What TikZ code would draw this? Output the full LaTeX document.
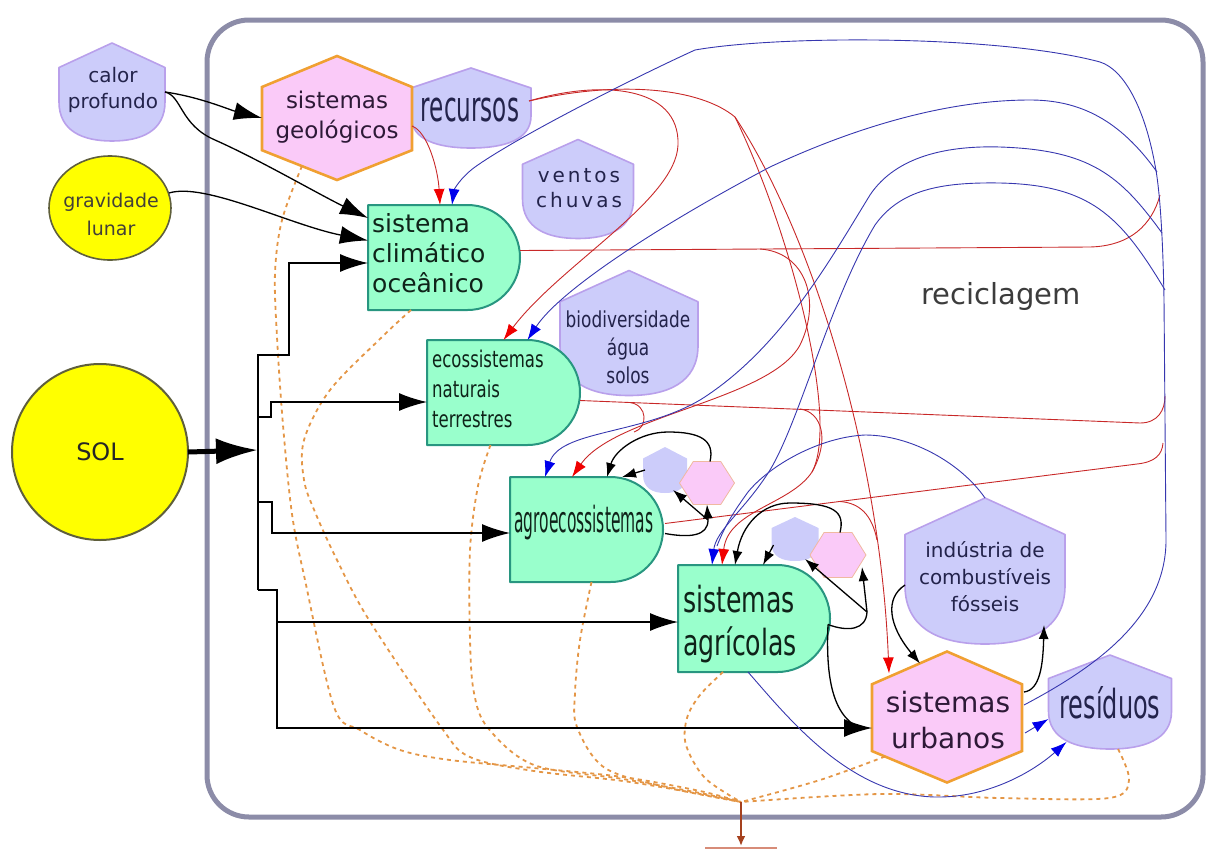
\documentclass[tikz,border=0pt]{standalone}
\usepackage{fontspec}
\setmainfont{DejaVu Sans}
\newfontfamily\fRec[FakeStretch=0.55]{DejaVu Sans}
\newfontfamily\fRes[FakeStretch=0.6]{DejaVu Sans}
\newfontfamily\fAgro[FakeStretch=0.43]{DejaVu Sans}
\newfontfamily\fAgric[FakeStretch=0.7]{DejaVu Sans}
\newfontfamily\fEco[FakeStretch=0.72]{DejaVu Sans}
\newfontfamily\fBio[FakeStretch=0.77]{DejaVu Sans}
\newfontfamily\fVent[LetterSpace=15]{DejaVu Sans}
\usetikzlibrary{arrows.meta,shapes.geometric,calc}
\pgfdeclarelayer{bg}
\pgfdeclarelayer{shp}
\pgfdeclarelayer{fg}
\pgfsetlayers{bg,shp,main,fg}
\definecolor{frameC}{RGB}{140,140,168}
\definecolor{lavF}{RGB}{204,204,250}
\definecolor{lavD}{RGB}{185,160,235}
\definecolor{pinkF}{RGB}{250,202,248}
\definecolor{orangeD}{RGB}{240,160,50}
\definecolor{salmonD}{RGB}{240,185,160}
\definecolor{greenF}{RGB}{153,255,204}
\definecolor{greenD}{RGB}{40,150,128}
\definecolor{yelF}{RGB}{255,255,0}
\definecolor{yelD}{RGB}{95,95,60}
\definecolor{redL}{RGB}{200,40,40}
\definecolor{redT}{RGB}{240,0,0}
\definecolor{blueL}{RGB}{55,55,175}
\definecolor{blueT}{RGB}{0,0,235}
\definecolor{heatC}{RGB}{228,150,70}
\definecolor{brownA}{RGB}{165,65,30}
\definecolor{barC}{RGB}{215,140,120}
\definecolor{navyT}{RGB}{35,35,75}
\definecolor{greenT}{RGB}{15,35,25}
\definecolor{pinkT}{RGB}{45,25,55}
\definecolor{grayT}{RGB}{60,60,60}
% shapes drawn from node anchors
\newcommand{\shieldP}[2]{\path[#2] (#1.north) -- ($(#1.north east)!0.25!(#1.south east)$) -- ($(#1.north east)!0.6!(#1.south east)$) .. controls ($(#1.north east)!0.9!(#1.south east)$) and ($(#1.south)!0.55!(#1.south east)$) .. (#1.south) .. controls ($(#1.south)!0.55!(#1.south west)$) and ($(#1.north west)!0.9!(#1.south west)$) .. ($(#1.north west)!0.6!(#1.south west)$) -- ($(#1.north west)!0.25!(#1.south west)$) -- cycle;}
\newcommand{\hexV}[2]{\path[#2] (#1.north) -- ($(#1.north east)!0.25!(#1.south east)$) -- ($(#1.north east)!0.76!(#1.south east)$) -- (#1.south) -- ($(#1.north west)!0.76!(#1.south west)$) -- ($(#1.north west)!0.25!(#1.south west)$) -- cycle;}
\newcommand{\hexH}[2]{\path[#2] ($(#1.north west)!0.25!(#1.north east)$) -- ($(#1.north west)!0.75!(#1.north east)$) -- (#1.east) -- ($(#1.south west)!0.75!(#1.south east)$) -- ($(#1.south west)!0.25!(#1.south east)$) -- (#1.west) -- cycle;}
\newcommand{\dP}[2]{\path[#2] (#1.north west) -- ($(#1.north east)+(-52.5,0)$) .. controls ($(#1.north east)+(-23.5,0)$) and ($(#1.east)+(0,-29)$) .. (#1.east) .. controls ($(#1.east)+(0,29)$) and ($(#1.south east)+(-23.5,0)$) .. ($(#1.south east)+(-52.5,0)$) -- (#1.south west) -- cycle;}
\tikzset{
  sbox/.style 2 args={minimum width=#1, minimum height=#2, inner sep=0pt, outer sep=0pt, draw=none},
  lavS/.style={fill=lavF, draw=lavD, line width=1.6pt, line join=round},
  lavSm/.style={fill=lavF, draw=none},
  pinkS/.style={fill=pinkF, draw=orangeD, line width=2.6pt, line join=miter},
  pinkSm/.style={fill=pinkF, draw=salmonD, line width=0.8pt},
  greenS/.style={fill=greenF, draw=greenD, line width=2pt, line join=round},
  flow/.style={draw=black, line width=1.3pt},
  bigtip/.style={-{Latex[length=28pt,width=18pt]}},
  smalltip/.style={-{Latex[length=14pt,width=10pt]}},
  redflow/.style={draw=redL, line width=0.9pt},
  redtip/.style={-{Latex[length=16pt,width=11pt,color=redT]}},
  blueflow/.style={draw=blueL, line width=0.9pt},
  bluetip/.style={-{Latex[length=16pt,width=11pt,color=blueT]}},
  heat/.style={draw=heatC, line width=1.8pt, dash pattern=on 4pt off 4pt},
  lbl/.style={inner sep=0pt, align=center},
}
\begin{document}
\begin{tikzpicture}[x=1pt,y=-1pt]
\useasboundingbox (0,0) rectangle (1206,854);
\begin{pgfonlayer}{bg}
\draw[draw=frameC, line width=5pt, rounded corners=42pt] (207,20) rectangle (1203,817);
\end{pgfonlayer}

% ---------- shape nodes ----------
\node[sbox={106}{98}] (calor) at (112,92) {};
\node[sbox={120}{80}] (rec) at (471,108) {};
\node[sbox={111}{99}] (vent) at (578,189) {};
\node[sbox={138}{125}] (bio) at (629,333) {};
\node[sbox={160}{146}] (ind) at (985,571) {};
\node[sbox={123}{94}] (res) at (1110,702) {};
\node[sbox={44}{46}] (s1) at (665,470) {};
\node[sbox={47}{44}] (s2) at (795,539) {};
\node[sbox={150}{124}] (geo) at (337,118) {};
\node[sbox={150}{131}] (urb) at (947,717) {};
\node[sbox={55}{43}] (p1) at (707,483) {};
\node[sbox={56}{45}] (p2) at (838,555) {};
\node[sbox={152}{105}] (clim) at (444,257.5) {};
\node[sbox={153}{105}] (eco) at (503.5,392.5) {};
\node[sbox={153}{105}] (agro) at (586.5,529.5) {};
\node[sbox={152}{107}] (agric) at (754,618.5) {};
\node[ellipse, minimum width=122pt, minimum height=104pt, inner sep=0pt, outer sep=0pt, fill=yelF, draw=yelD, line width=1.6pt] (grav) at (110,208) {};
\node[ellipse, minimum width=176pt, minimum height=176pt, inner sep=0pt, outer sep=0pt, fill=yelF, draw=yelD, line width=2pt, font=\fontsize{24}{28}\selectfont, text=black!85] (sol) at (100,452) {SOL};

\begin{pgfonlayer}{shp}
\shieldP{calor}{lavS}
\shieldP{rec}{lavS}
\shieldP{vent}{lavS}
\shieldP{bio}{lavS}
\shieldP{ind}{lavS}
\shieldP{res}{lavS}
\shieldP{s1}{lavSm}
\shieldP{s2}{lavSm}
\hexV{geo}{pinkS}
\hexV{urb}{pinkS}
\hexH{p1}{pinkSm}
\hexH{p2}{pinkSm}
\dP{clim}{greenS}
\dP{eco}{greenS}
\dP{agro}{greenS}
\dP{agric}{greenS}
\end{pgfonlayer}

% ---------- heat sink ----------
\coordinate (heat) at (741,802);
\coordinate (gnd) at (741,846);
\draw[heat] plot[smooth, tension=0.55] coordinates {($(geo.south)+(-35,-14)$) (282,220) (275,273) (277,337) (283,425) (292,514) (305,580) (334,707) (360,730) (400,750) (450,760) (534,768) (623,777) (700,791) (heat)};
\draw[heat] plot[smooth, tension=0.55] coordinates {($(clim.south west)+(43,0)$) (382,337) (330,390) (304,440) (304,480) (315,512) (337,560) (369,620) (441,727) (470,757) (534,771) (623,781) (700,794) (heat)};
\draw[heat] plot[smooth, tension=0.55] coordinates {($(eco.south)+(-13,0)$) (478,486) (470,550) (470,640) (474,693) (488,728) (534,765) (623,779) (700,793) (heat)};
\draw[heat] plot[smooth, tension=0.55] coordinates {($(agro.south)+(5,0)$) (580,640) (575,693) (577,727) (605,768) (670,788) (heat)};
\draw[heat] plot[smooth, tension=0.55] coordinates {($(agric.south)+(-31,0)$) (700,695) (687,718) (686,745) (705,778) (heat)};
\draw[heat] plot[smooth, tension=0.55] coordinates {($(urb.south west)+(13,-26)$) (820,780) (heat)};
\draw[heat] plot[smooth, tension=0.55] coordinates {($(res.south)+(8,0)$) (1129,780) (1109,798) (1000,798) (880,794) (heat)};
\draw[draw=brownA, line width=2.5pt, -{Latex[length=10pt,width=9pt]}] (heat) -- (gnd);
\draw[draw=barC, line width=1.2pt] (705,848) -- (777,848);

% ---------- energy inputs ----------
\coordinate (bus) at (258,450);
\draw[line width=5pt, -{Latex[length=42pt,width=26pt]}] (sol.east) -- (bus);
\draw[flow] (258,354) -- (258,590);
\draw[flow, bigtip] (258,355) -- (289,355) -- (289,263) -- ($(clim.west)+(0,5.5)$);
\draw[flow, bigtip] (258,417) -- (271,417) -- (271,402) -- ($(eco.west)+(0,9.5)$);
\draw[flow, bigtip] (258,502) -- (272,502) -- (272,533) -- ($(agro.west)+(0,3.5)$);
\draw[flow, bigtip] (258,590) -- (277,590) -- (277,622) -- ($(agric.west)+(0,3.5)$);
\draw[flow, bigtip] (277,622) -- (277,728) -- ($(urb.west)+(0,11)$);
\draw[flow, bigtip] (calor.east) .. controls (200,97) and (230,110) .. (geo.west);
\draw[flow, bigtip] (calor.east) .. controls (182,96) and (180,125) .. (215,140) .. controls (260,160) and (320,195) .. ($(clim.north west)+(0,13)$);
\draw[flow, bigtip] ($(grav.east)+(-2,-15)$) .. controls (205,182) and (290,225) .. ($(clim.west)+(0,-17)$);

% ---------- red (materials) ----------
\coordinate (rj) at (735,117);
\coordinate (rc) at (760,249);
\draw[redflow, redtip] ($(geo.east)+(0,8)$) .. controls (428,132) and (438,170) .. ($(clim.north)+(-4,0)$);
\draw[redflow, redtip] ($(rec.east)+(-2,-7)$) .. controls (600,80) and (680,85) .. (678,145) .. controls (676,200) and (560,265) .. (eco.north);
\draw[redflow] ($(rec.east)+(-2,-7)$) .. controls (620,80) and (700,88) .. (rj);
\draw[redflow, redtip] (rj) .. controls (810,230) and (880,450) .. ($(urb.north)+(-58,22)$);
\draw[redflow, redtip] (rj) .. controls (790,230) and (840,420) .. (812,472) .. controls (790,505) and (728,510) .. ($(agric.north)+(-32,0)$);
\draw[redflow] ($(clim.east)+(0,-7)$) -- (1090,247) .. controls (1130,246) and (1152,225) .. (1160,195);
\draw[redflow, redtip] (rc) .. controls (805,252) and (822,300) .. (800,345) .. controls (770,400) and (615,415) .. ($(agro.north)+(-14.5,0)$);
\draw[redflow] ($(eco.east)+(0,8)$) -- (1140,423) .. controls (1158,423) and (1165,410) .. (1165,396);
\draw[redflow] (630,402.5) .. controls (648,405) and (648,428) .. (634,432);
\draw[redflow] (800,409) .. controls (822,412) and (830,440) .. (812,472);
\draw[redflow] ($(agro.east)+(2,-6)$) -- (1137,464) .. controls (1155,462) and (1162,455) .. (1163,443);
\draw[redflow] (840,501.5) .. controls (860,503) and (872,515) .. (877,540);

% ---------- blue (recycling) ----------
\draw[blueflow, bluetip] ($(urb.east)+(2,-12)$) .. controls (1090,670) and (1166,620) .. (1166,540) -- (1164,300) .. controls (1163,240) and (1160,190) .. (1155,165) .. controls (1145,110) and (1125,70) .. (1100,62) .. controls (1000,35) and (780,35) .. (695,50) .. controls (640,75) and (520,135) .. (475,167) .. controls (460,178) and (454,190) .. ($(clim.north)+(8,0)$);
\draw[blueflow, bluetip] (1157,172) .. controls (1120,120) and (1080,100) .. (1030,100) .. controls (950,100) and (860,125) .. (770,167) .. controls (660,225) and (560,290) .. ($(eco.north)+(24,0)$);
\draw[blueflow, bluetip] (1162,233) .. controls (1120,175) and (1090,150) .. (1000,147) .. controls (930,145) and (890,165) .. (870,195) .. controls (830,260) and (780,350) .. (700,400) .. controls (640,435) and (560,430) .. ($(agro.north)+(-41.5,0)$);
\draw[blueflow, bluetip] (1165,290) .. controls (1120,215) and (1090,185) .. (1000,183) .. controls (940,182) and (900,190) .. (875,225) .. controls (830,300) and (800,420) .. (770,470) .. controls (745,510) and (716,530) .. ($(agric.north)+(-42,0)$);
\draw[blueflow] (ind.north) .. controls (960,462) and (910,435) .. (865,435) .. controls (820,437) and (770,465) .. (748,492) .. controls (735,510) and (725,525) .. (717,546);
\draw[blueflow, bluetip] ($(agric.south)+(-6,0)$) .. controls (790,720) and (850,795) .. (935,797) .. controls (990,798) and (1035,770) .. ($(res.south west)+(18,-7)$);
\draw[blueflow, bluetip] ($(urb.east)+(3,16)$) -- ($(res.west)+(0,17)$);

% ---------- black loops ----------
\coordinate (k1) at (708,520);
\coordinate (k2) at (867,612);
\draw[flow, smalltip] ($(agro.east)+(2,4)$) .. controls (690,538) and (708,536) .. (k1) -- (p1.south);
\draw[flow, smalltip] (k1) -- ($(s1.south)+(8,-3)$);
\draw[flow, smalltip] ($(p1.north)+(3,0)$) .. controls (715,440) and (700,432) .. (668,432) .. controls (640,432) and (615,450) .. ($(agro.north)+(20.5,0)$);
\draw[flow, smalltip] ($(s1.west)+(2,0)$) -- ($(agro.north)+(35.5,0)$);
\draw[flow, smalltip] ($(agric.east)+(-2,6)$) .. controls (848,632) and (866,630) .. (k2) -- ($(p2.east)+(-4,12)$);
\draw[flow, smalltip] (k2) -- ($(s2.south)+(10,-2)$);
\draw[flow, smalltip] ($(p2.north)+(2,0)$) .. controls (845,512) and (835,503) .. (790,503) .. controls (762,503) and (742,525) .. ($(agric.north)+(-19,0)$);
\draw[flow, smalltip] ($(s2.west)+(2,6)$) -- ($(agric.north)+(9,0)$);
\draw[flow] ($(agric.east)+(-2,6)$) .. controls (826,670) and (830,715) .. (860,728);
\draw[flow, smalltip] ($(ind.west)+(0,14)$) .. controls (885,598) and (888,625) .. ($(urb.north)+(-27,12)$);
\draw[flow, smalltip] ($(urb.east)+(2,-25)$) .. controls (1040,690) and (1043,665) .. (1044,625);

% ---------- labels ----------
\begin{pgfonlayer}{fg}
\node[lbl, text=navyT, font=\fontsize{20}{26}\selectfont] (calort) at (113,90) {calor\\profundo};
\node[lbl, text=black!85!yellow, font=\fontsize{19}{28}\selectfont] (gravt) at (111,214) {gravidade\\lunar};
\node[lbl, text=pinkT, font=\fontsize{23}{30}\selectfont] (geot) at (337,117) {sistemas\\geológicos};
\node[lbl, text=navyT, font=\fRec\fontsize{42}{46}\selectfont] (rect) at (470,110) {recursos};
\node[lbl, text=navyT, font=\fVent\fontsize{20}{25}\selectfont] (ventt) at (579,188) {ventos\\chuvas};
\node[lbl, text=greenT, align=left, anchor=west, font=\fontsize{25}{30}\selectfont] (climt) at (372,253) {sistema\\climático\\oceânico};
\node[lbl, text=greenT, align=left, anchor=west, font=\fEco\fontsize{23}{30}\selectfont] (ecot) at (432,389) {ecossistemas\\naturais\\terrestres};
\node[lbl, text=navyT, font=\fBio\fontsize{22}{28}\selectfont] (biot) at (628,347) {biodiversidade\\água\\solos};
\node[lbl, text=greenT, anchor=west, font=\fAgro\fontsize{36}{40}\selectfont] (agrot) at (514,523) {agroecossistemas};
\node[lbl, text=greenT, align=left, anchor=west, font=\fAgric\fontsize{36}{43}\selectfont] (agrict) at (683,624) {sistemas\\agrícolas};
\node[lbl, text=navyT, font=\fontsize{20}{27}\selectfont] (indt) at (985,577) {indústria de\\combustíveis\\fósseis};
\node[lbl, text=pinkT, font=\fontsize{28}{36}\selectfont] (urbt) at (948,720) {sistemas\\urbanos};
\node[lbl, text=navyT, font=\fRes\fontsize{40}{44}\selectfont] (rest) at (1110,703) {resíduos};
\node[lbl, text=grayT, font=\fontsize{29}{34}\selectfont] (recic) at (1001,296) {reciclagem};
\end{pgfonlayer}
\end{tikzpicture}
\end{document}
